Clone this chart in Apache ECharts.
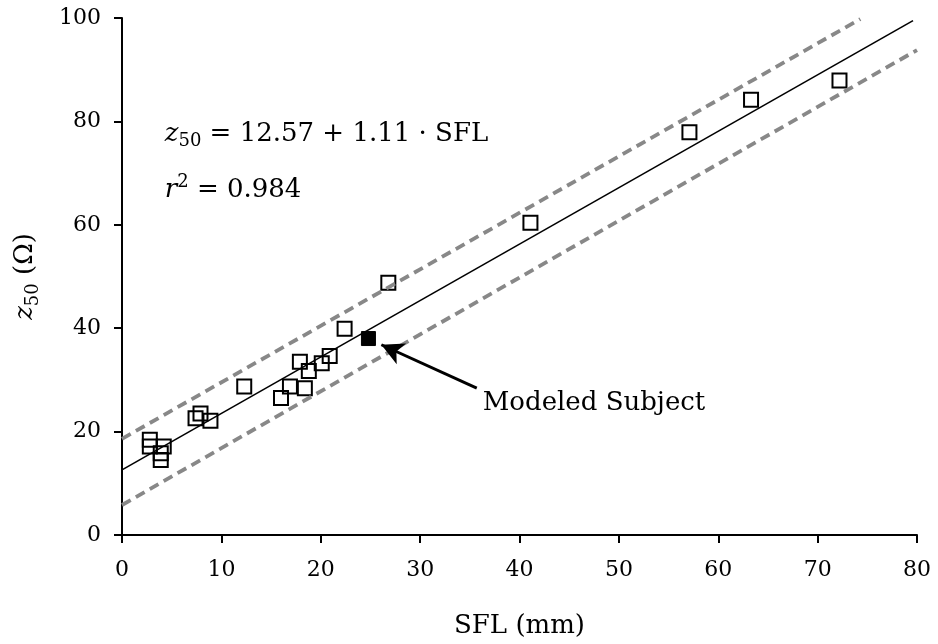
<!DOCTYPE html>
<html>
<head>
<meta charset="utf-8">
<script src="https://cdn.jsdelivr.net/npm/echarts@6/dist/echarts.min.js"></script>
<style>
html, body { margin: 0; padding: 0; background: #fff; }
#chart { width: 938px; height: 644px; }
</style>
</head>
<body>
<div id="chart"></div>
<script>
// measured subjects (SFL in mm, z50 in ohm)
const sflValues = [2.8, 2.8, 4.2, 3.9, 3.9, 7.4, 7.9, 8.9, 12.3, 16.0, 16.9, 18.4, 17.9, 18.8, 20.1, 20.9, 22.4, 26.8, 41.1, 57.1, 63.3, 72.2];
const z50Values = [18.4, 17.1, 17.1, 15.8, 14.5, 22.6, 23.5, 22.1, 28.7, 26.5, 28.7, 28.4, 33.5, 31.7, 33.2, 34.6, 39.9, 48.8, 60.4, 77.9, 84.2, 87.9];
const modeledSubject = [24.8, 38.0];
// regression and band lines
const fitLine = [[0, 12.6], [79.6, 99.5]];
const upperBand = [[0, 18.6], [74.3, 99.8]];
const lowerBand = [[0, 5.8], [80, 93.8]];
// annotation
const arrowFrom = [35.7, 28.4];
const arrowTo = [26.1, 36.8];
const annotationAt = [36.3, 25.5];
const equationAt = [4.3, 77.6];
const r2At = [4.3, 66.6];

const FONT = 'DejaVu Serif';
const chart = echarts.init(document.getElementById('chart'));

const points = sflValues.map((x, i) => [x, z50Values[i]]);

const subRich = {
   it: { fontFamily: FONT, fontSize: 26, fontStyle: 'italic', color: '#000', lineHeight: 34 },
   t: { fontFamily: FONT, fontSize: 26, color: '#000', lineHeight: 34 },
   sub: { fontFamily: FONT, fontSize: 18, color: '#000', lineHeight: 18, verticalAlign: 'bottom' },
   sup: { fontFamily: FONT, fontSize: 18, color: '#000', lineHeight: 18, verticalAlign: 'top' },
};

let option = {
   animation: false,
   grid: { left: 122, right: 21, top: 18, bottom: 106 },
   xAxis: {
      type: 'value',
      min: 0,
      max: 80,
      interval: 10,
      name: 'SFL (mm)',
      nameLocation: 'middle',
      nameGap: 78,
      nameTextStyle: { fontFamily: FONT, fontSize: 26, color: '#000' },
      axisLine: { onZero: false, lineStyle: { color: '#000', width: 2 } },
      axisTick: { length: 8, lineStyle: { color: '#000', width: 2 } },
      axisLabel: { fontFamily: FONT, fontSize: 22, color: '#000', margin: 24 },
      splitLine: { show: false },
   },
   yAxis: {
      type: 'value',
      min: 0,
      max: 100,
      interval: 20,
      name: '{it|z}{sub|50}{t| (Ω)}',
      nameLocation: 'middle',
      nameGap: 80,
      nameTextStyle: { rich: subRich },
      axisLine: { show: true, onZero: false, lineStyle: { color: '#000', width: 2 } },
      axisTick: { show: true, length: 8, lineStyle: { color: '#000', width: 2 } },
      axisLabel: { fontFamily: FONT, fontSize: 22, color: '#000', margin: 21 },
      splitLine: { show: false },
   },
   series: [
      {
         type: 'line',
         data: upperBand,
         symbol: 'none',
         silent: true,
         lineStyle: { color: '#888', width: 3.8, type: [10, 6] },
      },
      {
         type: 'line',
         data: lowerBand,
         symbol: 'none',
         silent: true,
         lineStyle: { color: '#888', width: 3.8, type: [10, 6] },
      },
      {
         type: 'line',
         data: fitLine,
         symbol: 'none',
         silent: true,
         lineStyle: { color: '#000', width: 1.6 },
         markLine: {
            silent: true,
            symbol: ['none', 'arrow'],
            symbolSize: [17, 22],
            label: { show: false },
            lineStyle: { color: '#000', width: 3, type: 'solid' },
            data: [[{ coord: arrowFrom }, { coord: arrowTo }]],
         },
      },
      {
         type: 'scatter',
         data: points,
         symbol: 'rect',
         symbolSize: 14,
         silent: true,
         itemStyle: { color: 'rgba(0,0,0,0)', borderColor: '#000', borderWidth: 2, opacity: 1 },
      },
      {
         type: 'scatter',
         data: [modeledSubject],
         symbol: 'rect',
         symbolSize: 14,
         silent: true,
         itemStyle: { color: '#000', borderColor: '#000', borderWidth: 1, opacity: 1 },
      },
   ],
};
chart.setOption(option);

const eqPos = chart.convertToPixel({ gridIndex: 0 }, equationAt);
const r2Pos = chart.convertToPixel({ gridIndex: 0 }, r2At);
const annPos = chart.convertToPixel({ gridIndex: 0 }, annotationAt);

chart.setOption({
   graphic: [
      {
         type: 'text',
         x: eqPos[0],
         y: eqPos[1],
         style: {
            text: '{it|z}{sub|50}{t| = 12.57 + 1.11 · SFL}',
            rich: subRich,
            align: 'left',
            verticalAlign: 'middle',
         },
      },
      {
         type: 'text',
         x: r2Pos[0],
         y: r2Pos[1],
         style: {
            text: '{it|r}{sup|2}{t| = 0.984}',
            rich: subRich,
            align: 'left',
            verticalAlign: 'middle',
         },
      },
      {
         type: 'text',
         x: annPos[0],
         y: annPos[1],
         style: {
            text: 'Modeled Subject',
            fontFamily: FONT,
            fontSize: 26,
            fill: '#000',
            align: 'left',
            verticalAlign: 'middle',
         },
      },
   ],
});
</script>
</body>
</html>
